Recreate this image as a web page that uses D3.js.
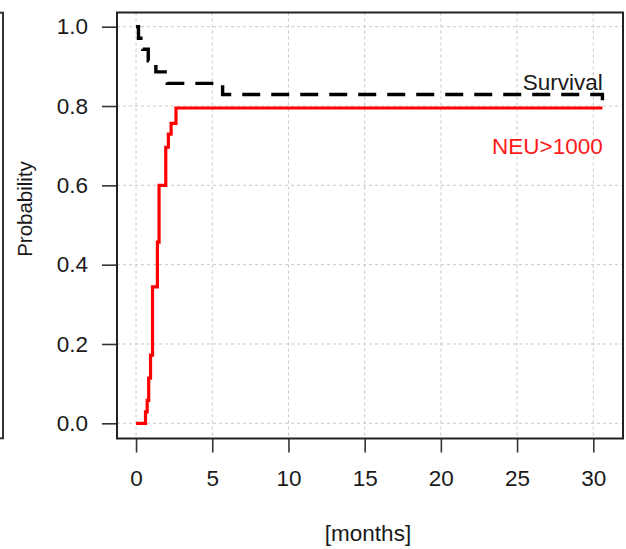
<!DOCTYPE html>
<html>
<head>
<meta charset="utf-8">
<script src="https://cdn.jsdelivr.net/npm/d3@7"></script>
<style>
  html, body { margin: 0; padding: 0; background: #fff; }
  svg { display: block; }
  text { font-family: "Liberation Sans", Arial, sans-serif; }
</style>
</head>
<body>
<svg id="chart" width="626" height="549"></svg>
<script>
// ---- data ----
const xTicks = [0, 5, 10, 15, 20, 25, 30];
const yTicks = [0.0, 0.2, 0.4, 0.6, 0.8, 1.0];
const survTime = [0, 0.16, 0.45, 0.80, 1.30, 2.05, 5.68, 30.6];
const survProb = [1.0, 0.971, 0.943, 0.914, 0.886, 0.857, 0.829, 0.79];
const neuTime = [0, 0.62, 0.73, 0.83, 0.95, 1.08, 1.40, 1.51, 1.95, 2.12, 2.30, 2.62, 30.6];
const neuProb = [0, 0.029, 0.058, 0.114, 0.172, 0.344, 0.457, 0.600, 0.696, 0.729, 0.756, 0.795, 0.795];
const seriesLabels = ["Survival", "NEU>1000"];
const xLabel = "[months]";
const yLabel = "Probability";

// ---- layout ----
const svg = d3.select("#chart");
const pL = 117, pR = 623, pT = 12.5, pB = 438.5;
const x = d3.scaleLinear().domain([-1.25, 31.95]).range([pL, pR]);
const y = d3.scaleLinear().domain([-0.0383, 1.0358]).range([pB, pT]);
const fs = 22.5;

// neighbouring panel edge
svg.append("rect").attr("x", -20).attr("y", 12.7).attr("width", 23).attr("height", 425.6)
  .attr("fill", "none").attr("stroke", "#333").attr("stroke-width", 2);

// grid
const grid = svg.append("g").attr("stroke", "#c8c8c8").attr("stroke-width", 1)
  .attr("stroke-dasharray", "3,3");
grid.selectAll("line.v").data(xTicks).join("line").attr("class", "v")
  .attr("x1", d => x(d)).attr("x2", d => x(d)).attr("y1", pT).attr("y2", pB);
grid.selectAll("line.h").data(yTicks).join("line").attr("class", "h")
  .attr("y1", d => y(d)).attr("y2", d => y(d)).attr("x1", pL).attr("x2", pR);

// axes
const yAxis = svg.append("g").attr("transform", `translate(${pL},0)`)
  .call(d3.axisLeft(y).tickValues(yTicks).tickFormat(d3.format(".1f")).tickSize(15).tickPadding(14));
const xAxis = svg.append("g").attr("transform", `translate(0,${pB})`)
  .call(d3.axisBottom(x).tickValues(xTicks).tickFormat(d3.format("d")).tickSize(14).tickPadding(18));
[xAxis, yAxis].forEach(g => {
  g.select(".domain").remove();
  g.selectAll(".tick line").attr("stroke", "#333").attr("stroke-width", 1.6);
  g.selectAll(".tick text").attr("font-size", fs).attr("fill", "#1a1a1a")
    .attr("font-family", "'Liberation Sans', Arial, sans-serif");
});

// box
svg.append("rect").attr("x", pL).attr("y", pT).attr("width", pR - pL).attr("height", pB - pT)
  .attr("fill", "none").attr("stroke", "#222").attr("stroke-width", 2);

// curves
const line = d3.line().curve(d3.curveStepAfter).x(d => x(d[0])).y(d => y(d[1]));
svg.append("path").datum(neuTime.map((t, i) => [t, neuProb[i]]))
  .attr("d", line).attr("fill", "none").attr("stroke", "#ff0000").attr("stroke-width", 3.2);
svg.append("path").datum(survTime.map((t, i) => [t, survProb[i]]))
  .attr("d", line).attr("fill", "none").attr("stroke", "#000").attr("stroke-width", 3.4)
  .attr("stroke-dasharray", "18,11");

// series labels
svg.append("text").attr("x", 602.7).attr("y", 89.5).attr("text-anchor", "end")
  .attr("font-size", fs).attr("fill", "#1a1a1a").text(seriesLabels[0]);
svg.append("text").attr("x", 602.7).attr("y", 153.5).attr("text-anchor", "end")
  .attr("font-size", fs).attr("fill", "#ff1a1a").text(seriesLabels[1]);

// axis titles
svg.append("text").attr("x", 368).attr("y", 541).attr("text-anchor", "middle")
  .attr("font-size", fs).attr("fill", "#1a1a1a").text(xLabel);
svg.append("text").attr("transform", "translate(31.5,209) rotate(-90)").attr("text-anchor", "middle")
  .attr("font-size", 20.5).attr("fill", "#1a1a1a").text(yLabel);
</script>
</body>
</html>
